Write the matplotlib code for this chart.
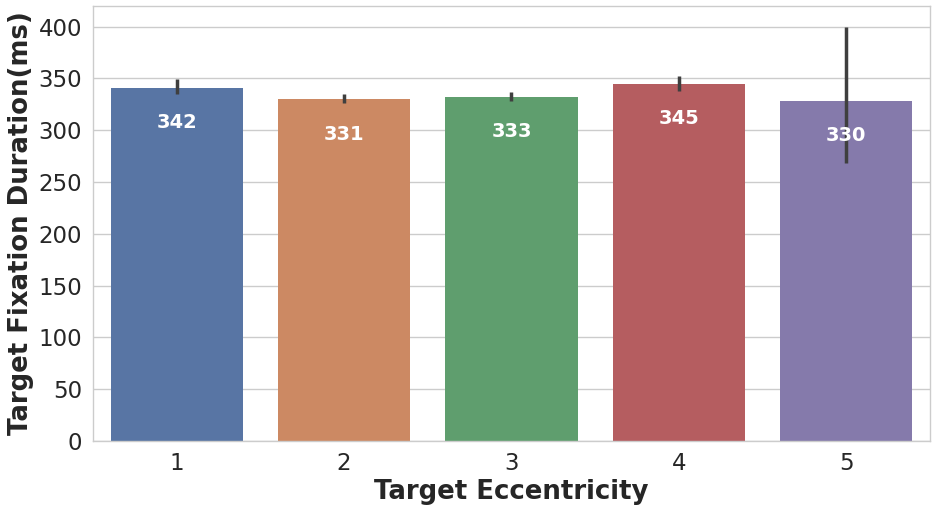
import matplotlib
matplotlib.use("Agg")
import matplotlib.pyplot as plt
import numpy as np

categories = ["1", "2", "3", "4", "5"]
means = [341.2, 330.4, 332.4, 345.0, 328.7]
err_low = [335.0, 326.5, 328.3, 337.6, 268.6]
err_high = [349.6, 334.9, 336.8, 352.7, 400.0]
labels = ["342", "331", "333", "345", "330"]
colors = ["#5875a4", "#cc8963", "#5f9e6e", "#b55d60", "#857aab"]

fig = plt.figure(figsize=(9.37, 5.12), dpi=100)
ax = fig.add_axes([93/937, 1-441/512, (930-93)/937, (441-6)/512])
x = np.arange(len(categories))
ax.set_axisbelow(True)
ax.yaxis.grid(True, color="#cccccc", linewidth=1.0)
ax.bar(x, means, width=0.79, color=colors, zorder=2)
for xi, lo, hi in zip(x, err_low, err_high):
    ax.plot([xi, xi], [lo, hi], color="#3f3f3f", linewidth=2.5, solid_capstyle="butt", zorder=3)
for xi, m, lab in zip(x, means, labels):
    ax.text(xi, m - 34, lab, ha="center", va="center", color="white",
            fontsize=14, fontweight="bold", zorder=4)
ax.set_xlim(-0.5, 4.5)
ax.set_ylim(0, 420)
ax.set_yticks(np.arange(0, 401, 50))
ax.set_xticks(x)
ax.set_xticklabels(categories)
ax.tick_params(axis="both", labelsize=16.5, length=0, pad=8, colors="#262626")
for s in ax.spines.values():
    s.set_color("#cccccc")
    s.set_linewidth(1.0)
ax.set_xlabel("Target Eccentricity", fontsize=18.7, fontweight="bold", color="#262626", labelpad=3)
ax.set_ylabel("Target Fixation Duration(ms)", fontsize=18.7, fontweight="bold", color="#262626", labelpad=3)
fig.savefig("out.png", dpi=100)
